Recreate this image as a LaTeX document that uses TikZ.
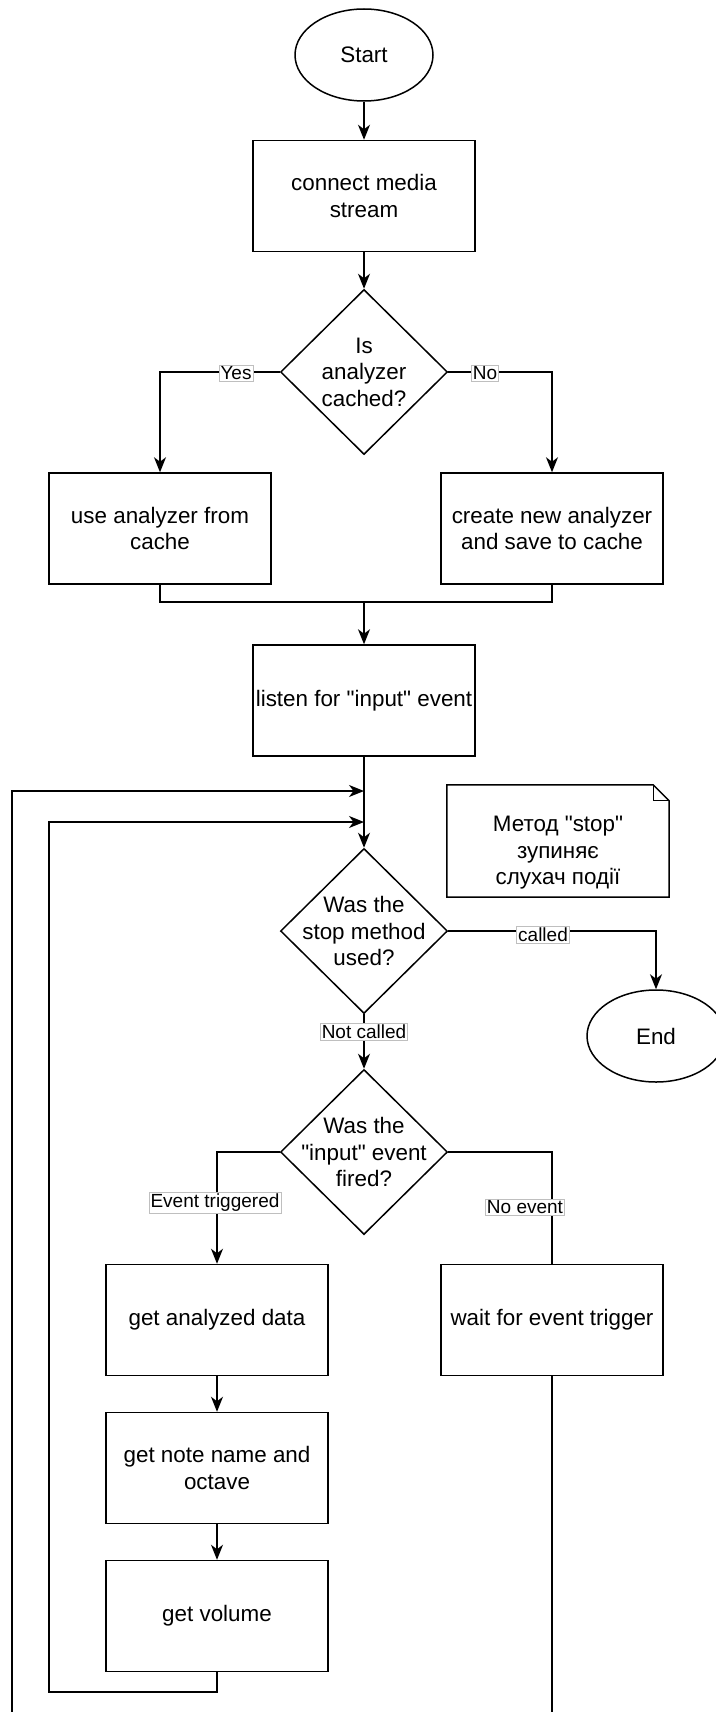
\documentclass[tikz,border=0pt]{standalone}
\usepackage{fontspec}
\setmainfont{Liberation Sans}[Ligatures=TeXOff]
\usetikzlibrary{shapes.geometric,arrows.meta}
\newcommand\mfs{\fontsize{22.4}{26.5}\selectfont}
\newcommand\lfs{\fontsize{19}{22}\selectfont}
\tikzset{
  base/.style={font=\mfs, align=center, line width=1.5pt, draw},
  proc/.style={base, rectangle, minimum width=222pt, minimum height=111pt, inner sep=0pt},
  term/.style={base, ellipse, minimum width=138pt, minimum height=92pt, inner sep=0pt},
  dec/.style={base, diamond, minimum width=167pt, minimum height=165pt, inner sep=0pt},
  dtext/.style={font=\mfs, align=center, inner sep=0pt},
  notebox/.style={minimum width=222pt, minimum height=112pt, inner sep=0pt},
  lbl/.style={font=\lfs, fill=white, draw=black!25, line width=0.6pt, inner sep=1.5pt},
  conn/.style={line width=1.5pt},
  arr/.style={conn, -{Stealth[length=15pt,width=12pt,inset=4.5pt]}},
}
\begin{document}
\begin{tikzpicture}[x=1pt,y=-1pt]
\useasboundingbox (0,0) rectangle (715,1712);

% nodes
\node[term] (start) at (364,55) {Start};
\node[proc] (connect) at (364,196) {connect media\\stream};
\node[dec] (d1) at (364,372) {};
\node[dtext] (d1t) at (d1) {Is\\analyzer\\cached?};
\node[proc] (use) at (160,528.5) {use analyzer from\\cache};
\node[proc] (create) at (552,528.5) {create new analyzer\\and save to cache};
\node[proc] (listen) at (364,700.5) {listen for "input" event};
\node[dec] (d2) at (364,931) {};
\node[dtext] (d2t) at (d2) {Was the\\stop method\\used?};
\node[term] (end) at (656,1036) {End};
\node[dec] (d3) at (364,1152) {};
\node[dtext] (d3t) at (d3) {Was the\\"input" event\\fired?};
\node[proc] (analyzed) at (217,1320) {get analyzed data};
\node[proc] (wait) at (552,1320) {wait for event trigger};
\node[proc] (notename) at (217,1468) {get note name and\\octave};
\node[proc] (volume) at (217,1616) {get volume};

% note
\node[notebox] (note) at (558,841) {};
\draw[conn] (note.north west) -- ([xshift=-16pt]note.north east) -- ([yshift=-16pt]note.north east) -- (note.south east) -- (note.south west) -- cycle;
\draw[line width=1.2pt] ([xshift=-16pt]note.north east) -- ([xshift=-16pt,yshift=-16pt]note.north east) -- ([yshift=-16pt]note.north east);
\node[dtext] (notetext) at (558,853) {Метод "stop"\\зупиняє\\слухач події};

% helper coordinates
\coordinate (m) at (364,602);
\coordinate (j1) at (364,791);
\coordinate (j2) at (364,822);
\coordinate (il) at (49,1692);
\coordinate (ol) at (12,1740);

% connectors
\draw[arr] (start) -- (connect);
\draw[arr] (connect) -- (d1);
\draw[arr] (d1.west) -| (use.north);
\draw[arr] (d1.east) -| (create.north);
\draw[conn] (use.south) |- (m) -| (create.south);
\draw[arr] (m) -- (listen);
\draw[arr] (listen) -- (d2);
\draw[arr] (d2.east) -| (end.north);
\draw[arr] (d2) -- (d3);
\draw[arr] (d3.west) -| (analyzed.north);
\draw[conn] (d3.east) -| (wait.north);
\draw[arr] (analyzed) -- (notename);
\draw[arr] (notename) -- (volume);
\draw[arr] (volume.south) |- (il) |- (j2);
\draw[arr] (wait.south) |- (ol) |- (j1);

% labels
\node[lbl] (lyes) at (236,373) {Yes};
\node[lbl] (lno) at (485,373) {No};
\node[lbl] (lcalled) at (543,935) {called};
\node[lbl] (lnot) at (364,1032) {Not called};
\node[lbl] (ltrig) at (215,1203) {Event triggered};
\node[lbl] (lnoev) at (525,1207) {No event};
\end{tikzpicture}
\end{document}
